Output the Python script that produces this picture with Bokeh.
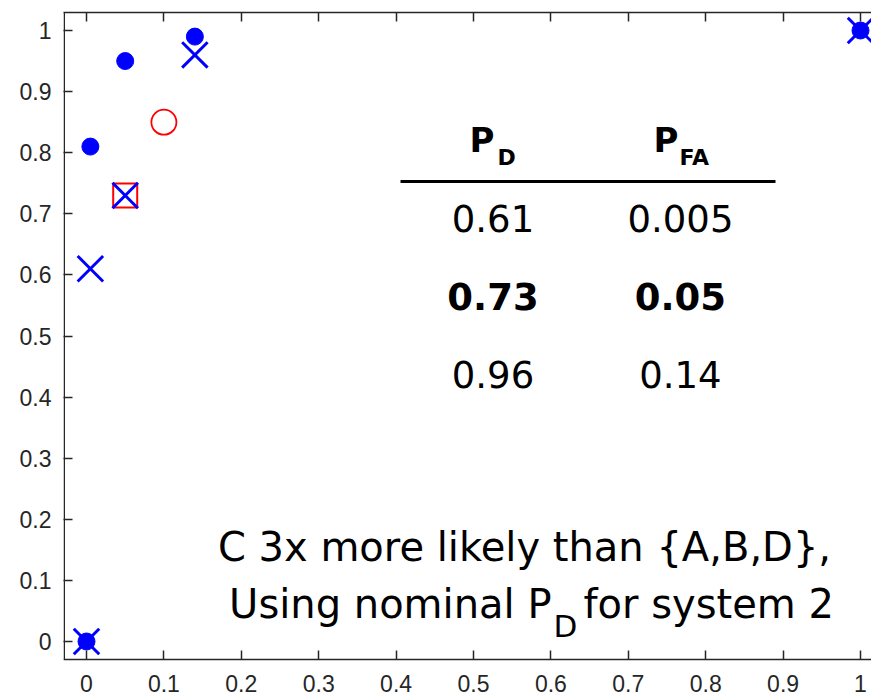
from bokeh.plotting import figure
from bokeh.models import Range1d, LinearAxis, FixedTicker, CustomJSTickFormatter
from bokeh.core.properties import value
from bokeh.embed import file_html
from bokeh.resources import INLINE

# Operating points: probability of false alarm vs. probability of detection
pfa = [0, 0.005, 0.05, 0.14, 1]
pd_nominal = [0, 0.81, 0.95, 0.99, 1]      # filled blue circles
pd_fused = [0, 0.61, 0.73, 0.96, 1]        # blue crosses
square_pfa = [0.05]
square_pd = [0.73]
ring_pfa = [0.1]
ring_pd = [0.85]

ticks = [0, 0.1, 0.2, 0.3, 0.4, 0.5, 0.6, 0.7, 0.8, 0.9, 1]

# table rows (middle row highlighted)
table_pd = pd_fused[1:4]
table_pfa = pfa[1:4]
highlight_row = 1

AXIS_COLOR = "#262626"
TICK_FONT = "Liberation Sans"
BODY_FONT = "DejaVu Sans"
PX = 1 / 611   # one screen pixel in y data units
PXX = 1 / 774  # one screen pixel in x data units

X0, X1 = -23 * PXX, 785 * PXX          # axes box left edge / window edge
Y_BOX0, Y_BOX1 = -18 * PX, 1 + 18 * PX  # axes box bottom / top
Y_VIEW0 = -54 * PX                      # frame runs to the bottom of the page


def lift(font_px):
    # raise alphabetic-baseline text so the baseline lands on the given y
    return 0.37 * font_px * PX


p = figure(width=871, height=695,
           x_range=Range1d(X0, X1), y_range=Range1d(Y_VIEW0, Y_BOX1),
           output_backend="svg", toolbar_location=None,
           min_border_left=63, min_border_right=0,
           min_border_top=12, min_border_bottom=0)
p.outline_line_color = None
p.grid.visible = False
p.background_fill_color = "white"
p.border_fill_color = "white"

fmt = CustomJSTickFormatter(code="return tick.toFixed(1).replace(/\\.0$/, '');")
blank = CustomJSTickFormatter(code="return '';")


def style_axis(ax):
    ax.ticker = FixedTicker(ticks=ticks)
    ax.major_tick_in = 9
    ax.major_tick_out = 0
    ax.minor_tick_line_color = None
    ax.axis_line_color = AXIS_COLOR
    ax.axis_line_width = 1.5
    ax.major_tick_line_color = AXIS_COLOR
    ax.major_tick_line_width = 1.5
    ax.major_label_text_font = TICK_FONT
    ax.major_label_text_font_size = "23px"
    ax.major_label_text_color = AXIS_COLOR


for ax in p.yaxis:
    style_axis(ax)
    ax.formatter = fmt
    ax.major_label_standoff = 12
    ax.axis_line_color = None   # box edge drawn below so it stops at the box

for ax in p.xaxis:
    style_axis(ax)
    ax.formatter = fmt
    ax.major_label_standoff = 15
    ax.fixed_location = Y_BOX0

top = LinearAxis()
style_axis(top)
top.formatter = blank
top.major_label_standoff = 0
p.add_layout(top, "above")

# left edge of the axes box
p.segment(x0=[X0 + 0.75 * PXX], y0=[Y_BOX0], x1=[X0 + 0.75 * PXX], y1=[Y_BOX1],
          line_color=AXIS_COLOR, line_width=1.5)

# markers
p.scatter(square_pfa, square_pd, marker="square", size=24, fill_color=None,
          line_color="red", line_width=2)
p.scatter(ring_pfa, ring_pd, marker="circle", size=25, fill_color=None,
          line_color="red", line_width=1.8)
p.scatter(pfa, pd_fused, marker="x", size=36, line_color="blue", line_width=3)
p.scatter(pfa, pd_nominal, marker="circle", size=17, fill_color="blue",
          line_color="blue", line_width=1)

# table of operating points
col_x = [0.5252, 0.7674]
row_y = [0.6694, 0.5417, 0.4141]
row_font = 37
for i, (d, fa) in enumerate(zip(table_pd, table_pfa)):
    style = "bold" if i == highlight_row else "normal"
    p.text(x=col_x, y=[row_y[i] + lift(row_font)] * 2, text=[f"{d:g}", f"{fa:g}"],
           text_align="center", text_baseline="alphabetic",
           text_font=value(BODY_FONT), text_font_size=f"{row_font}px",
           text_font_style=style, text_color="black")

# header: P with subscripts
head_font, sub_font = 34, 22
p.text(x=[(494 - 86) * PXX, (678 - 86) * PXX], y=[(641 - 152) * PX + lift(head_font)] * 2,
       text=["P", "P"], text_align="right", text_baseline="alphabetic",
       text_font=value(BODY_FONT), text_font_size=f"{head_font}px",
       text_font_style="bold", text_color="black")
p.text(x=[(497 - 86) * PXX, (679 - 86) * PXX], y=[(641 - 165) * PX + lift(sub_font)] * 2,
       text=["D", "FA"], text_align="left", text_baseline="alphabetic",
       text_font=value(BODY_FONT), text_font_size=f"{sub_font}px",
       text_font_style="bold", text_color="black")
p.segment(x0=[(400 - 86) * PXX], y0=[(641 - 181) * PX], x1=[(775 - 86) * PXX],
          y1=[(641 - 181) * PX], line_color="black", line_width=3)

# caption
cap_font, cap_sub = 40, 31
p.text(x=[(524 - 86) * PXX], y=[(641 - 561) * PX + lift(cap_font)],
       text=["C 3x more likely than {A,B,D},"],
       text_align="center", text_baseline="alphabetic",
       text_font=value(BODY_FONT), text_font_size=f"{cap_font}px", text_color="black")
p.text(x=[(551 - 86) * PXX], y=[(641 - 618) * PX + lift(cap_font)], text=["Using nominal P"],
       text_align="right", text_baseline="alphabetic", text_font=value(BODY_FONT),
       text_font_size=f"{cap_font}px", text_color="black")
p.text(x=[(553 - 86) * PXX], y=[(641 - 637) * PX + lift(cap_sub)], text=["D"],
       text_align="left", text_baseline="alphabetic", text_font=value(BODY_FONT),
       text_font_size=f"{cap_sub}px", text_color="black")
p.text(x=[(583 - 86) * PXX], y=[(641 - 618) * PX + lift(cap_font)], text=["for system 2"],
       text_align="left", text_baseline="alphabetic", text_font=value(BODY_FONT),
       text_font_size=f"{cap_font}px", text_color="black")

open("out.html", "w").write(file_html(p, INLINE))
